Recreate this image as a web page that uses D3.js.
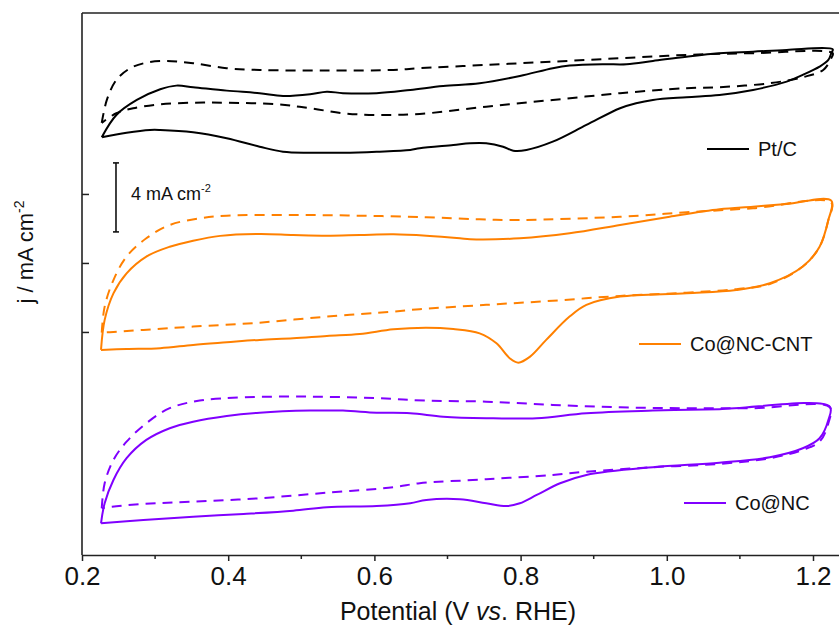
<!DOCTYPE html>
<html>
<head>
<meta charset="utf-8">
<script src="https://cdn.jsdelivr.net/npm/d3@7"></script>
<style>
  html, body { margin: 0; padding: 0; background: #fff; }
  svg { display: block; font-family: "Liberation Sans", Arial, sans-serif; }
</style>
</head>
<body>
<svg id="chart" width="839" height="639"></svg>
<script>
// ---------------- DATA (Potential V vs RHE, j in mA cm^-2 with display offsets) ----------------
const xTicks = [0.2, 0.4, 0.6, 0.8, 1.0, 1.2];
const xMinorTicks = [0.3, 0.5, 0.7, 0.9, 1.1];
const yTicks = [-4, 0, 4];
const seriesNames = ["Pt/C", "Co@NC-CNT", "Co@NC"];
const seriesColors = ["#000000", "#ff8000", "#8000ff"];

const ptcSolid = [
[0.227,7.29],[0.247,8.58],[0.275,9.45],[0.307,10.07],[0.329,10.28],[0.352,10.19],[0.398,9.99],[0.443,9.84],[0.475,9.68],[0.512,9.78],[0.535,9.93],[0.557,9.84],[0.603,9.84],[0.649,10.03],[0.694,10.26],[0.744,10.42],[0.799,10.84],[0.844,11.29],[0.867,11.44],[0.913,11.52],[0.945,11.52],[0.981,11.71],[1.027,11.96],[1.072,12.16],[1.118,12.25],[1.164,12.35],[1.227,12.39],
[1.225,12.16],[1.221,11.77],[1.209,11.38],[1.186,10.90],[1.164,10.51],[1.118,10.03],[1.072,9.74],[1.027,9.61],[0.981,9.45],[0.958,9.26],[0.936,8.97],[0.890,8.00],[0.844,7.03],[0.808,6.55],[0.790,6.51],[0.776,6.74],[0.753,6.94],[0.731,6.94],[0.708,6.84],[0.662,6.65],[0.649,6.55],[0.603,6.45],[0.557,6.39],[0.512,6.39],[0.475,6.45],[0.443,6.74],[0.398,7.23],[0.352,7.58],[0.307,7.71],[0.293,7.71],[0.261,7.55],[0.227,7.29]
];
const ptcDash = [
[0.227,8.12],[0.234,9.45],[0.247,10.61],[0.266,11.29],[0.288,11.61],[0.316,11.71],[0.352,11.58],[0.398,11.29],[0.443,11.19],[0.535,11.15],[0.626,11.19],[0.662,11.29],[0.753,11.48],[0.844,11.67],[0.936,11.87],[1.027,12.06],[1.118,12.16],[1.227,12.16],
[1.225,11.87],[1.214,11.19],[1.186,10.77],[1.141,10.42],[1.072,10.19],[1.027,10.13],[0.936,9.84],[0.844,9.45],[0.753,9.06],[0.662,8.64],[0.603,8.58],[0.557,8.68],[0.512,8.97],[0.466,9.20],[0.398,9.29],[0.352,9.29],[0.307,9.20],[0.270,8.97],[0.247,8.68],[0.227,8.12]
];
const cntSolid = [
[0.226,-5.04],[0.231,-3.30],[0.243,-1.76],[0.261,-0.60],[0.288,0.37],[0.320,0.94],[0.352,1.29],[0.389,1.57],[0.443,1.68],[0.489,1.62],[0.535,1.58],[0.580,1.62],[0.626,1.66],[0.671,1.58],[0.717,1.43],[0.731,1.37],[0.799,1.43],[0.867,1.72],[0.936,2.20],[1.004,2.68],[1.072,3.11],[1.118,3.26],[1.164,3.42],[1.225,3.61],
[1.221,2.49],[1.209,0.94],[1.186,-0.21],[1.141,-1.18],[1.095,-1.57],[1.027,-1.76],[0.936,-1.95],[0.890,-2.43],[0.867,-3.11],[0.835,-4.46],[0.813,-5.43],[0.797,-5.78],[0.785,-5.52],[0.767,-4.66],[0.744,-4.08],[0.708,-3.83],[0.671,-3.75],[0.626,-3.84],[0.580,-4.12],[0.535,-4.23],[0.489,-4.37],[0.443,-4.46],[0.398,-4.60],[0.352,-4.75],[0.307,-4.94],[0.261,-4.99],[0.226,-5.04]
];
const cntDash = [
[0.227,-4.04],[0.231,-2.53],[0.243,-0.99],[0.261,0.37],[0.288,1.43],[0.320,2.20],[0.361,2.59],[0.398,2.74],[0.489,2.78],[0.580,2.74],[0.671,2.65],[0.744,2.53],[0.799,2.49],[0.936,2.68],[1.027,2.94],[1.118,3.17],[1.225,3.50],
[1.221,2.49],[1.209,0.94],[1.186,-0.21],[1.141,-1.22],[1.095,-1.52],[1.027,-1.72],[0.936,-1.91],[0.844,-2.19],[0.753,-2.43],[0.662,-2.68],[0.626,-2.82],[0.535,-3.11],[0.443,-3.46],[0.352,-3.69],[0.284,-3.88],[0.243,-4.00],[0.227,-4.04]
];
const conSolid = [
[0.226,-15.09],[0.231,-13.93],[0.243,-12.58],[0.261,-11.32],[0.288,-10.26],[0.320,-9.58],[0.352,-9.20],[0.398,-8.87],[0.443,-8.68],[0.512,-8.56],[0.557,-8.56],[0.603,-8.68],[0.649,-8.71],[0.694,-8.91],[0.753,-9.00],[0.822,-9.00],[0.890,-8.71],[0.981,-8.56],[1.072,-8.48],[1.223,-8.33],
[1.221,-9.10],[1.209,-10.16],[1.186,-10.74],[1.141,-11.26],[1.072,-11.58],[0.981,-11.84],[0.890,-12.29],[0.854,-12.77],[0.822,-13.45],[0.799,-13.93],[0.781,-14.09],[0.753,-13.93],[0.717,-13.70],[0.671,-13.74],[0.649,-13.93],[0.603,-14.09],[0.535,-14.16],[0.489,-14.36],[0.421,-14.55],[0.352,-14.71],[0.284,-14.90],[0.226,-15.09]
];
const conDash = [
[0.227,-14.22],[0.231,-12.77],[0.243,-11.42],[0.261,-10.36],[0.288,-9.29],[0.320,-8.42],[0.361,-7.98],[0.421,-7.79],[0.512,-7.75],[0.603,-7.84],[0.671,-7.98],[0.753,-8.04],[0.844,-8.23],[0.936,-8.37],[1.027,-8.42],[1.118,-8.42],[1.223,-8.37],
[1.221,-9.29],[1.209,-10.36],[1.186,-10.84],[1.141,-11.32],[1.072,-11.65],[0.981,-11.84],[0.890,-12.10],[0.844,-12.29],[0.753,-12.54],[0.662,-12.77],[0.626,-13.00],[0.535,-13.32],[0.443,-13.64],[0.352,-13.84],[0.284,-13.97],[0.241,-14.13],[0.227,-14.22]
];
const scaleBar = { v: 0.2465, j0: 1.80, j1: 5.80, label: "4 mA cm" };

// ---------------- LAYOUT ----------------
const svg = d3.select("#chart");
const plotLeft = 82, plotTop = 13, plotBottom = 555;
const x = d3.scaleLinear().domain([0.2, 1.2]).range([plotLeft, 813]);
const y = d3.scaleLinear().domain([-16.93, 14.49]).range([plotBottom, plotTop]);
const axisColor = "#222";

// curves
const line = d3.line().x(d => x(d[0])).y(d => y(d[1])).curve(d3.curveCatmullRom.alpha(0.5));
const curves = [
  {data: ptcSolid, c: 0, dash: null}, {data: ptcDash, c: 0, dash: "10,7"},
  {data: cntSolid, c: 1, dash: null}, {data: cntDash, c: 1, dash: "10,7"},
  {data: conSolid, c: 2, dash: null}, {data: conDash, c: 2, dash: "10,7"}
];
svg.append("g").selectAll("path").data(curves).join("path")
  .attr("d", d => line(d.data))
  .attr("fill", "none")
  .attr("stroke", d => seriesColors[d.c])
  .attr("stroke-width", 2)
  .attr("stroke-linejoin", "round")
  .attr("stroke-dasharray", d => d.dash);

// frame: left axis, top line
svg.append("line").attr("x1", plotLeft).attr("x2", 839).attr("y1", plotTop).attr("y2", plotTop)
  .attr("stroke", axisColor).attr("stroke-width", 1.6);
svg.append("line").attr("x1", plotLeft).attr("x2", plotLeft).attr("y1", plotTop).attr("y2", plotBottom)
  .attr("stroke", axisColor).attr("stroke-width", 1.6);

// x axis
const xAxis = d3.axisBottom(x).tickValues(xTicks).tickFormat(d3.format(".1f")).tickSizeInner(6).tickSizeOuter(0).tickPadding(6);
const gx = svg.append("g").attr("transform", `translate(0,${plotBottom})`).call(xAxis);
gx.select(".domain").attr("d", `M${plotLeft},0.5H839`).attr("stroke", axisColor).attr("stroke-width", 1.6);
gx.selectAll(".tick line").attr("stroke", axisColor).attr("stroke-width", 1.5);
gx.selectAll(".tick text").attr("font-size", 26).attr("fill", "#111")
  .attr("font-family", "'Liberation Sans', Arial, sans-serif");
const gxm = svg.append("g").attr("transform", `translate(0,${plotBottom})`);
gxm.selectAll("line").data(xMinorTicks).join("line")
  .attr("x1", d => x(d)).attr("x2", d => x(d)).attr("y1", 0).attr("y2", 4)
  .attr("stroke", axisColor).attr("stroke-width", 1.5);

// y axis (inward ticks, no labels)
const yAxis = d3.axisRight(y).tickValues(yTicks).tickSizeInner(7).tickSizeOuter(0).tickFormat("");
const gy = svg.append("g").attr("transform", `translate(${plotLeft},0)`).call(yAxis);
gy.select(".domain").remove();
gy.selectAll(".tick line").attr("stroke", axisColor).attr("stroke-width", 1.5);

// axis titles
const xt = svg.append("text").attr("x", 458).attr("y", 620).attr("text-anchor", "middle")
  .attr("font-size", 25).attr("fill", "#111");
xt.append("tspan").text("Potential (V ");
xt.append("tspan").attr("font-style", "italic").text("vs");
xt.append("tspan").text(". RHE)");

const yt = svg.append("text").attr("transform", "translate(33,252) rotate(-90)")
  .attr("text-anchor", "middle").attr("font-size", 22).attr("fill", "#111");
yt.append("tspan").text("j / mA cm");
yt.append("tspan").attr("font-size", 14).attr("dy", -9).text("-2");

// scale bar
const sb = svg.append("g").attr("stroke", "#111").attr("stroke-width", 1.6);
sb.append("line").attr("x1", x(scaleBar.v)).attr("x2", x(scaleBar.v)).attr("y1", y(scaleBar.j0)).attr("y2", y(scaleBar.j1));
sb.append("line").attr("x1", x(scaleBar.v) - 3).attr("x2", x(scaleBar.v) + 3).attr("y1", y(scaleBar.j0)).attr("y2", y(scaleBar.j0));
sb.append("line").attr("x1", x(scaleBar.v) - 3).attr("x2", x(scaleBar.v) + 3).attr("y1", y(scaleBar.j1)).attr("y2", y(scaleBar.j1));
const sbt = svg.append("text").attr("x", 131).attr("y", 200).attr("font-size", 18).attr("fill", "#111");
sbt.append("tspan").text(scaleBar.label);
sbt.append("tspan").attr("font-size", 11).attr("dy", -8).text("-2");

// legends
const legendPos = [{tx: 758, ly: 149}, {tx: 690, ly: 344}, {tx: 735, ly: 503}];
seriesNames.forEach((name, i) => {
  const p = legendPos[i];
  svg.append("line").attr("x1", p.tx - 51).attr("x2", p.tx - 9).attr("y1", p.ly).attr("y2", p.ly)
    .attr("stroke", seriesColors[i]).attr("stroke-width", 2);
  svg.append("text").attr("x", p.tx).attr("y", p.ly + 7).attr("font-size", 20).attr("fill", "#111").text(name);
});
</script>
</body>
</html>
